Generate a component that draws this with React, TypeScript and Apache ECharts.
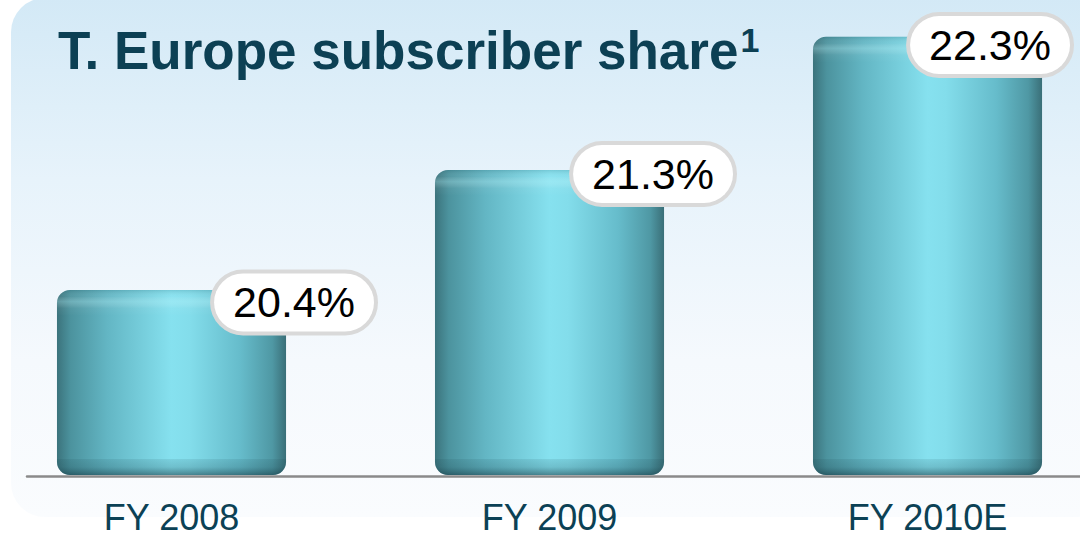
import React, { useEffect, useRef } from "react";
import * as echarts from "echarts";

const categories = ["FY 2008", "FY 2009", "FY 2010E"];
const shareValues = [20.4, 21.3, 22.3];
const titleText = "T. Europe subscriber share";
const footnoteMark = "1";

const Y_MIN = 19;
const Y_MAX = 22.5;
// label pill offsets relative to each bar's top-right corner
const labelOffsets = [
  [8, 12.5],
  [-11, 4],
  [-52, 8.3],
];

export default function App() {
  const ref = useRef<HTMLDivElement>(null);

  useEffect(() => {
    if (!ref.current) return;
    const chart = echarts.init(ref.current, null, { renderer: "svg" });

    const data = shareValues.map((v, i) => [i, v]);

    const bodyGrad = new echarts.graphic.LinearGradient(0, 0, 1, 0, [
      { offset: 0, color: "#3b737c" },
      { offset: 0.06, color: "#4c939e" },
      { offset: 0.22, color: "#63b6c4" },
      { offset: 0.5, color: "#86e1ef" },
      { offset: 0.58, color: "#83ddeb" },
      { offset: 0.8, color: "#66bccb" },
      { offset: 0.94, color: "#4f98a4" },
      { offset: 1, color: "#3a6f78" },
    ]);

    const option: any = {
      animation: false,
      backgroundColor: "#ffffff",
      graphic: [
        {
          type: "rect",
          z: -10,
          silent: true,
          shape: { x: 11, y: -2, width: 1100, height: 519, r: 34 },
          style: {
            fill: new echarts.graphic.LinearGradient(0, 0, 0, 1, [
              { offset: 0, color: "#d3e9f6" },
              { offset: 0.35, color: "#e7f3fb" },
              { offset: 0.7, color: "#f5f9fd" },
              { offset: 1, color: "#fafcfe" },
            ]),
          },
        },
      ],
      title: {
        text: titleText + "{sup|" + footnoteMark + "}",
        left: 58,
        top: 23,
        padding: 0,
        textStyle: {
          fontFamily: "Liberation Sans, Arial, sans-serif",
          fontSize: 53,
          fontWeight: "bold",
          color: "#0c4054",
          rich: {
            sup: {
              fontFamily: "Liberation Sans, Arial, sans-serif",
              fontSize: 34,
              fontWeight: "bold",
              color: "#0c4054",
              verticalAlign: "top",
              padding: [0, 0, 20, 2],
            },
          },
        },
      },
      grid: { left: 27, right: 0, top: 10, bottom: 62.5 },
      xAxis: {
        type: "value",
        min: -0.3823,
        max: 2.4034,
        splitLine: { show: false },
        axisTick: { show: false },
        axisLine: {
          show: true,
          onZero: false,
          lineStyle: { color: "#8a8a8a", width: 2.5 },
        },
        axisLabel: {
          customValues: [0, 1, 2],
          margin: 23,
          fontFamily: "Liberation Sans, Arial, sans-serif",
          fontSize: 36,
          color: "#0b4155",
          formatter: (v: number) => categories[Math.round(v)] ?? "",
        },
      },
      yAxis: {
        type: "value",
        min: Y_MIN,
        max: Y_MAX,
        show: false,
        splitLine: { show: false },
      },
      series: [
        {
          type: "custom",
          data,
          encode: { x: 0, y: 1 },
          z: 5,
          renderItem: (params: any, api: any) => {
            const idx = params.dataIndex;
            const xv = api.value(0);
            const v = api.value(1);
            const top = api.coord([xv, v]);
            const bot = api.coord([xv, Y_MIN]);
            const w = api.size([0.606, 0])[0];
            const x0 = top[0] - w / 2;
            const y0 = top[1];
            const h = bot[1] - top[1] - 1.5;
            const r = 13;
            const off = labelOffsets[idx];
            return {
              type: "group",
              children: [
                {
                  type: "rect",
                  shape: { x: x0, y: y0, width: w, height: h, r },
                  style: { fill: bodyGrad },
                },
                {
                  type: "rect",
                  shape: { x: x0, y: y0, width: w, height: 26, r: [r, r, 0, 0] },
                  style: {
                    fill: new echarts.graphic.LinearGradient(0, 0, 0, 1, [
                      { offset: 0, color: "rgba(20,70,80,0.15)" },
                      { offset: 0.25, color: "rgba(255,255,255,0.05)" },
                      { offset: 0.45, color: "rgba(200,250,255,0.28)" },
                      { offset: 0.7, color: "rgba(255,255,255,0.05)" },
                      { offset: 1, color: "rgba(255,255,255,0)" },
                    ]),
                  },
                },
                {
                  type: "rect",
                  shape: { x: x0, y: y0 + h - 16, width: w, height: 16, r: [0, 0, r, r] },
                  style: {
                    fill: new echarts.graphic.LinearGradient(0, 0, 0, 1, [
                      { offset: 0, color: "rgba(20,60,70,0.1)" },
                      { offset: 0.5, color: "rgba(20,60,70,0.2)" },
                      { offset: 1, color: "rgba(10,40,50,0.5)" },
                    ]),
                  },
                },
                {
                  type: "text",
                  z2: 20,
                  style: {
                    text: v.toFixed(1) + "%",
                    x: x0 + w + off[0],
                    y: y0 + off[1],
                    align: "center",
                    verticalAlign: "middle",
                    fill: "#000000",
                    fontFamily: "Liberation Sans, Arial, sans-serif",
                    fontSize: 43,
                    backgroundColor: "#ffffff",
                    borderColor: "#d9d9d9",
                    borderWidth: 4,
                    borderRadius: 33,
                    padding: [8, 19, 7, 19],
                  },
                },
              ],
            };
          },
        },
      ],
    };

    chart.setOption(option);
    return () => chart.dispose();
  }, []);

  return (
    <div
      ref={ref}
      style={{ position: "fixed", left: 0, top: 0, width: 1080, height: 539 }}
    />
  );
}
